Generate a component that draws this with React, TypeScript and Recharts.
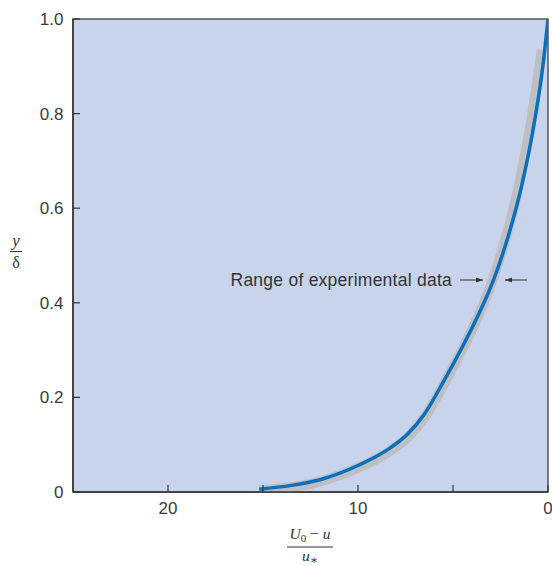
import React from "react";
import {
  LineChart,
  Line,
  XAxis,
  YAxis,
  CartesianGrid,
  ReferenceArea,
} from "recharts";

// defect-law curve: (U0 - u)/u* vs y/delta
const curveX = [15.2, 13.5, 12.0, 10.0, 8.5, 7.4, 6.5, 5.45, 4.4, 3.6, 2.85, 2.1, 1.4, 0.7, 0.25, 0];
const curveY = [0.006, 0.014, 0.026, 0.056, 0.088, 0.122, 0.165, 0.237, 0.315, 0.38, 0.45, 0.54, 0.645, 0.786, 0.907, 1.0];

// centre of the grey "range of experimental data" band
const bandX = [15.2, 12.0, 10.0, 8.5, 7.4, 6.5, 5.45, 4.4, 3.6, 2.9, 2.2, 1.55, 0.88, 0.45, 0.33];
const bandY = [0.003, 0.022, 0.051, 0.082, 0.115, 0.157, 0.23, 0.31, 0.378, 0.45, 0.54, 0.645, 0.786, 0.9, 0.935];

const xTicks = [0, 5, 10, 15, 20];
const xTickLabels = ["0", "", "10", "", "20"];
const yTicks = [0, 0.2, 0.4, 0.6, 0.8, 1.0];
const yTickLabels = ["0", "0.2", "0.4", "0.6", "0.8", "1.0"];

const curveData = curveX.map((x, i) => ({ x, y: curveY[i] }));
const bandData = bandX.map((x, i) => ({ x, y: bandY[i] }));

const FONT = "'Liberation Sans', Arial, sans-serif";
const SERIF = "'Liberation Serif', 'DejaVu Serif', serif";
const tickStyle = { fontSize: 17, fill: "#3a3a3a", fontFamily: FONT };

export default function App() {
  return (
    <div style={{ position: "absolute", left: 0, top: 0, width: 552, height: 566, background: "#fff" }}>
      <LineChart
        width={552}
        height={566}
        margin={{ top: 19, right: 4, left: 0, bottom: 44 }}
      >
        <CartesianGrid fill="#c8d4ec" horizontal={false} vertical={false} />
        <XAxis
          type="number"
          dataKey="x"
          domain={[0, 25]}
          reversed
          allowDataOverflow
          ticks={xTicks}
          interval={0}
          tickFormatter={(v: number) => xTickLabels[xTicks.indexOf(v)] ?? ""}
          tick={tickStyle}
          tickSize={-7}
          tickMargin={17}
          height={30}
          axisLine={{ stroke: "#333", strokeWidth: 1.5 }}
          tickLine={{ stroke: "#333", strokeWidth: 1.2 }}
        />
        <YAxis
          type="number"
          dataKey="y"
          domain={[0, 1]}
          allowDataOverflow
          ticks={yTicks}
          interval={0}
          tickFormatter={(v: number) => yTickLabels[yTicks.indexOf(v)] ?? ""}
          tick={tickStyle}
          tickSize={-7}
          tickMargin={16.5}
          width={73}
          axisLine={{ stroke: "#333", strokeWidth: 1.5 }}
          tickLine={{ stroke: "#333", strokeWidth: 1.2 }}
        />
        <ReferenceArea x1={0} x2={25} y1={0} y2={1} fill="none" stroke="#555" strokeWidth={1.5} />
        <Line
          data={bandData}
          dataKey="y"
          type="monotone"
          stroke="#bdbfc3"
          strokeWidth={10}
          dot={false}
          isAnimationActive={false}
        />
        <Line
          data={curveData}
          dataKey="y"
          type="monotone"
          stroke="#0a6fbd"
          strokeWidth={3.5}
          dot={false}
          isAnimationActive={false}
        />
      </LineChart>
      <svg
        width={552}
        height={566}
        style={{ position: "absolute", left: 0, top: 0, pointerEvents: "none" }}
      >
        <defs>
          <marker id="ah" viewBox="0 0 10 10" refX="10" refY="5" markerWidth="7" markerHeight="7" orient="auto">
            <path d="M0,1.5 L10,5 L0,8.5 z" fill="#333" />
          </marker>
        </defs>
        <text x={452} y={286} textAnchor="end" fontFamily={FONT} fontSize={17.5} letterSpacing={0.25} fill="#333">
          Range of experimental data
        </text>
        <line x1={460} y1={280} x2={483} y2={280} stroke="#333" strokeWidth={1} markerEnd="url(#ah)" />
        <line x1={527} y1={280} x2={505} y2={280} stroke="#333" strokeWidth={1} markerEnd="url(#ah)" />

        <text x={16} y={246} textAnchor="middle" fontFamily={SERIF} fontStyle="italic" fontSize={17} fill="#333">
          y
        </text>
        <line x1={10} y1={251.5} x2={22} y2={251.5} stroke="#333" strokeWidth={1} />
        <text x={16} y={268} textAnchor="middle" fontFamily={SERIF} fontSize={16} fill="#333">
          δ
        </text>

        <text x={310} y={539} textAnchor="middle" fontFamily={SERIF} fontSize={15.5} fill="#333">
          <tspan fontStyle="italic">U</tspan>
          <tspan fontSize={11} dy={3}>0</tspan>
          <tspan dy={-3}> − </tspan>
          <tspan fontStyle="italic">u</tspan>
        </text>
        <line x1={287} y1={547} x2={333} y2={547} stroke="#333" strokeWidth={1} />
        <text x={310} y={561} textAnchor="middle" fontFamily={SERIF} fontSize={15.5} fill="#333">
          <tspan fontStyle="italic">u</tspan>
          <tspan fontSize={12} dy={3}>∗</tspan>
        </text>
      </svg>
    </div>
  );
}
